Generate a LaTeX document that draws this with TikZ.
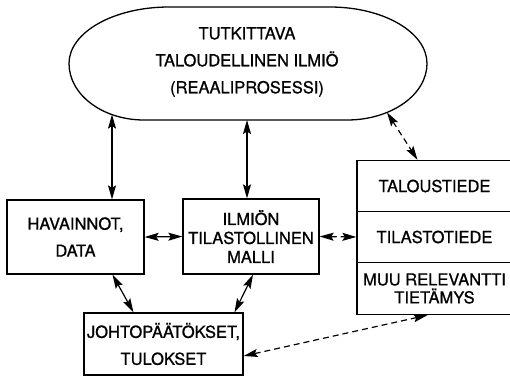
\documentclass[tikz,border=0pt]{standalone}
\usepackage{fontspec}
\setmainfont[FakeBold=0.9]{TeX Gyre Heros}
\usetikzlibrary{arrows.meta,calc,positioning}

\begin{document}
\begin{tikzpicture}[x=1pt,y=1pt,
  box/.style={draw,line width=1.3pt,align=center,inner sep=0pt,
    font=\fontsize{16.5}{27}\selectfont},
  tip/.style={>={Stealth[length=14pt,width=8pt,inset=2.5pt]},line width=1.2pt},
  dsh/.style={dash pattern=on 6pt off 4pt}]
\useasboundingbox (0,0) rectangle (510,-376);
% reaaliprosessi
\draw[line width=1.3pt] (69,-63.5) arc[start angle=180,end angle=90,x radius=100,y radius=56.5]
  -- (330,-7) arc[start angle=90,end angle=0,x radius=97,y radius=56.5]
  arc[start angle=0,end angle=-90,x radius=80,y radius=56.5]
  -- (144,-120) arc[start angle=270,end angle=180,x radius=75,y radius=56.5] -- cycle;
\node[align=center,font=\fontsize{16.5}{27}\selectfont] (ilmio) at (247,-62)
  {TUTKITTAVA\\TALOUDELLINEN ILMIÖ\\(REAALIPROSESSI)};
\coordinate (e1) at (112,-114.6);
\coordinate (e2) at (247,-120);
\coordinate (e3) at (387,-112.4);
% laatikot
\node[box,minimum width=137pt,minimum height=74pt] (hav) at (75.5,-237) {HAVAINNOT,\\DATA};
\node[box,minimum width=136pt,minimum height=75pt,font=\fontsize{16.5}{19}\selectfont] (malli) at (251,-236.5)
  {ILMIÖN\\TILASTOLLINEN\\MALLI};
\node[box,minimum width=159pt,minimum height=62pt] (tulos) at (163.5,-344) {JOHTOPÄÄTÖKSET,\\TULOKSET};
\node[box,minimum width=155pt,minimum height=51pt] (tal) at (434.5,-186) {TALOUSTIEDE};
\node[box,minimum width=155pt,minimum height=51pt,below=-1.3pt of tal] (tilasto) {TILASTOTIEDE};
\node[box,minimum width=155pt,minimum height=52pt,below=-1.3pt of tilasto,
  font=\fontsize{16.5}{18}\selectfont] (muu) {MUU RELEVANTTI\\TIETÄMYS};
% nuolet
\path[tip,<->]
(e1) edge (e1 |- hav.north)
(e2) edge (e2 |- malli.north)
(hav.east) edge (malli.west)
([xshift=37pt]hav.south) edge ([xshift=-30pt]tulos.north)
([xshift=2pt]malli.south) edge ([xshift=71pt]tulos.north);
\path[tip,dsh,<->]
(e3) edge ([xshift=-17pt]tal.north)
(malli.east) edge (tilasto.west)
([xshift=-7pt]muu.south) edge ([yshift=-12pt]tulos.east);
\end{tikzpicture}
\end{document}
